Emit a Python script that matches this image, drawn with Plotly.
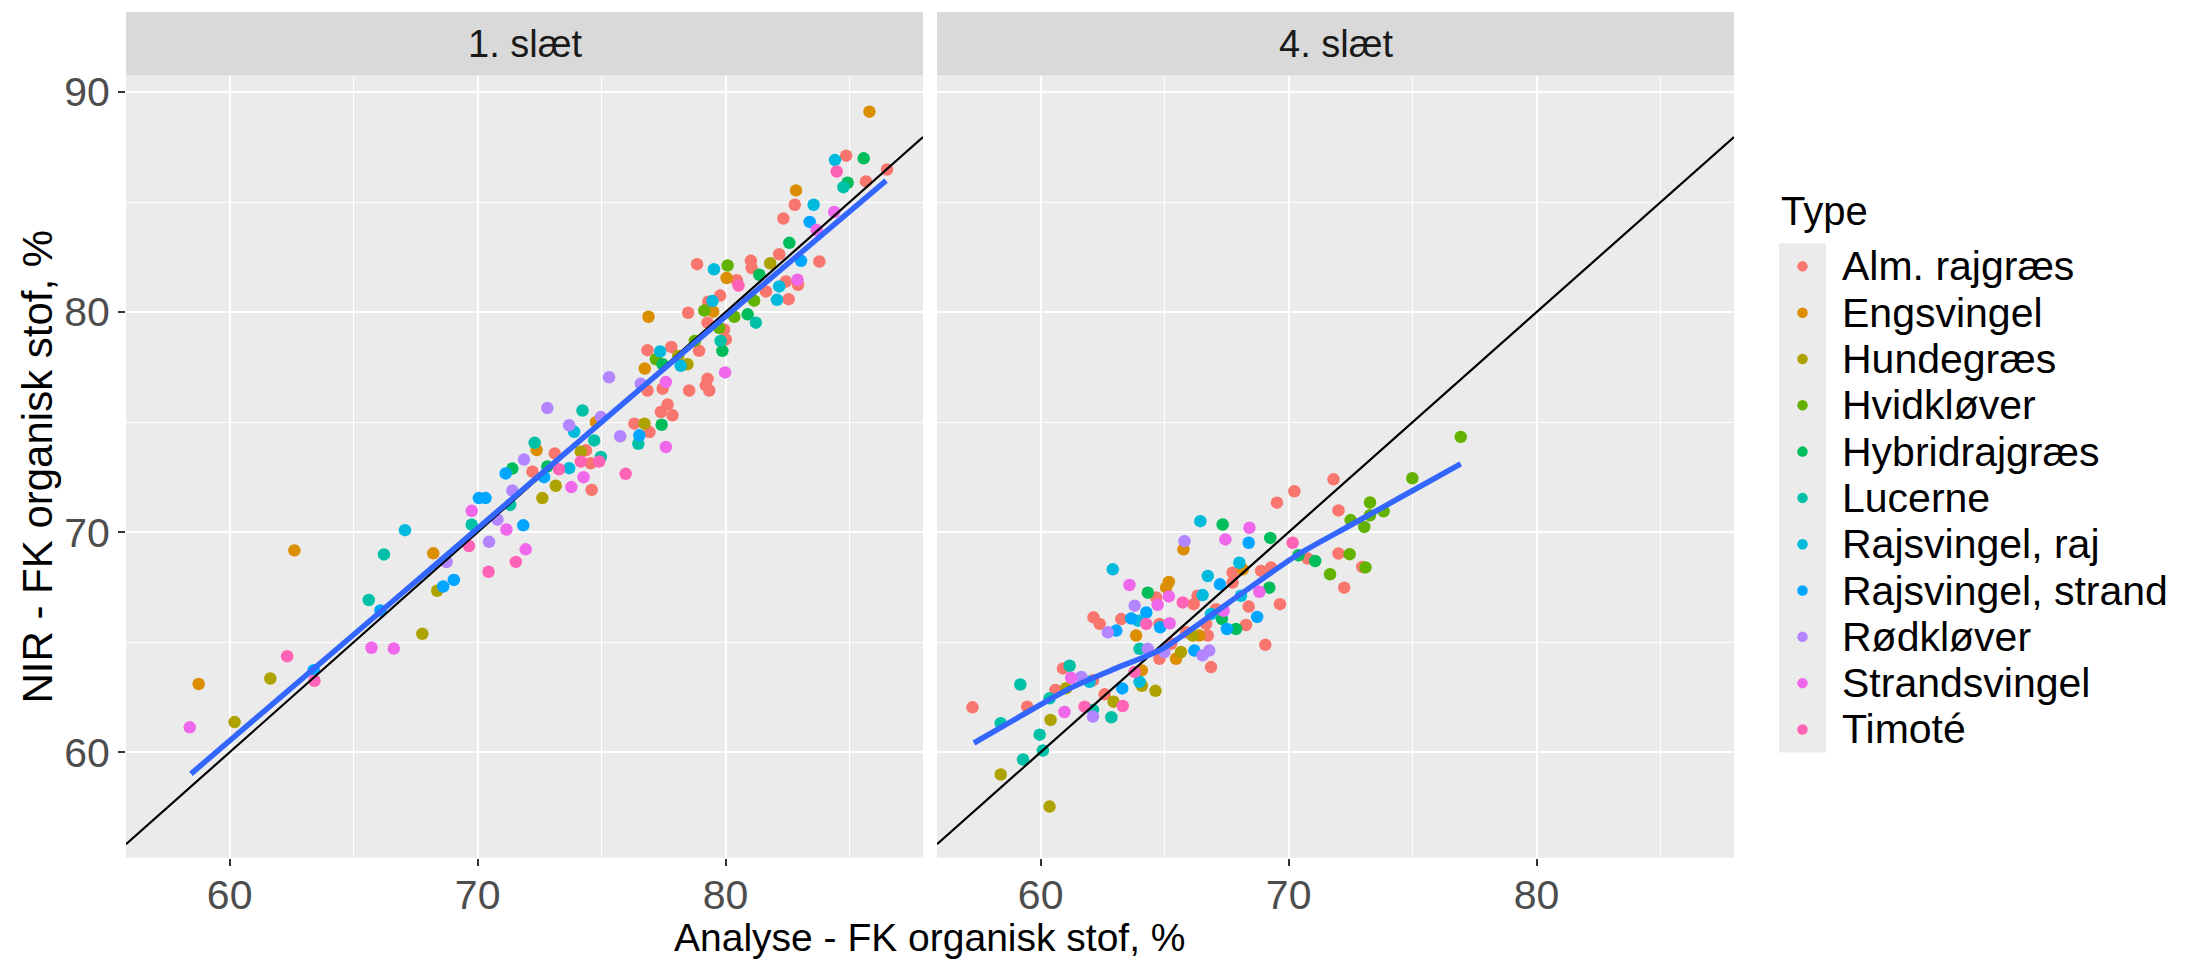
import plotly.graph_objects as go

W, H = 2193, 961
FONT = "Liberation Sans, Arial, sans-serif"

# ---- categories and colours -------------------------------------------------
type_names = ["Alm. rajgræs", "Engsvingel", "Hundegræs", "Hvidkløver", "Hybridrajgræs",
              "Lucerne", "Rajsvingel, raj", "Rajsvingel, strand", "Rødkløver",
              "Strandsvingel", "Timoté"]
type_codes = ["AR", "EN", "HU", "HK", "HY", "LU", "RR", "RS", "RK", "SV", "TI"]
type_colors = ["#F8766D", "#DB8E00", "#AEA200", "#64B200", "#00BD5C", "#00C1A7",
               "#00BADE", "#00A6FF", "#B385FF", "#EF67EB", "#FF63B6"]

facet_labels = ["1. slæt", "4. slæt"]

# ---- 1. slæt: analysed vs. NIR organic matter -------------------------------
cut1_type = [
    "EN", "RR", "AR", "HY", "TI", "AR", "AR", "HY", "LU", "EN", "AR", "RR", "AR", "RS", "SV",
    "SV", "HY", "AR", "HU", "AR", "AR", "AR", "RR", "HK", "EN", "TI", "AR", "HY", "AR", "RS",
    "AR", "SV", "AR", "RR", "AR", "HK", "RR", "AR", "AR", "RR", "AR", "HK", "EN", "AR", "EN",
    "HK", "HY", "LU", "AR", "HK", "AR", "AR", "LU", "HY", "SV", "AR", "RR", "AR", "HK", "HY",
    "HU", "HU", "RR", "AR", "HK", "EN", "RK", "RK", "SV", "AR", "AR", "AR", "AR", "AR", "AR",
    "AR", "AR", "AR", "HY", "AR", "HU", "AR", "RS", "LU", "RK", "SV", "LU", "RK", "EN", "LU",
    "AR", "LU",
    "EN", "SV", "HU", "HU", "TI", "EN", "RS", "TI", "LU", "RS", "LU", "RR", "SV", "SV", "HU",
    "EN", "HU", "RS", "RS", "RK", "TI", "LU", "SV", "RS", "RS", "RK", "TI", "RK", "SV", "RS",
    "SV", "TI", "RK", "LU", "RS", "HY", "RK", "AR", "LU", "EN", "RK", "HU", "HU", "RS", "AR",
    "HY", "TI", "RR", "SV", "SV", "AR", "RK", "RR", "HU", "TI", "AR", "TI", "TI",
]
cut1_analyse = [
    85.80, 84.41, 84.86, 85.57, 84.48, 86.51, 85.66, 84.92, 84.75, 82.84, 82.79, 83.55, 82.33,
    83.39, 84.38, 83.67, 82.57, 82.16, 81.80, 81.02, 81.05, 78.85, 79.53, 80.08, 80.04, 80.52,
    80.45, 81.36, 83.78, 83.04, 82.43, 82.90, 82.92, 82.16, 81.63, 81.15, 82.07, 82.54, 79.78,
    79.47, 79.30, 79.14, 79.50, 78.49, 76.89, 80.35, 80.89, 81.22, 79.27, 79.74, 79.94, 80.01,
    79.80, 79.87, 79.98, 76.85, 77.36, 77.81, 77.19, 77.46, 78.09, 78.46, 78.19, 78.93, 78.76,
    76.74, 75.30, 76.58, 77.59, 77.46, 76.85, 78.53, 79.27, 79.20, 79.34, 77.66, 77.39, 77.86,
    77.42, 76.32, 76.73, 76.93, 76.52, 76.48, 75.75, 77.59, 74.23, 74.97, 74.77, 74.70, 74.37,
    74.97,
    58.75, 58.39, 60.20, 61.64, 62.32, 62.61, 63.39, 63.42, 65.61, 66.08, 66.22, 67.07, 65.72,
    66.62, 67.77, 68.21, 68.37, 68.61, 69.04, 68.75, 69.65, 69.76, 69.76, 70.05, 70.32, 70.46,
    70.44, 70.80, 71.16, 71.84, 71.94, 71.54, 71.40, 71.31, 71.13, 71.40, 71.87, 72.21, 72.30,
    72.38, 72.81, 72.61, 73.15, 72.68, 73.11, 72.81, 73.28, 73.69, 73.78, 74.27, 74.60, 73.69,
    73.89, 74.16, 74.90, 74.56, 74.16, 75.97,
]
cut1_nir = [
    89.11, 86.91, 87.11, 86.99, 86.39, 86.48, 85.94, 85.88, 85.68, 85.53, 84.88, 84.88, 84.25,
    84.10, 84.55, 83.73, 83.15, 82.63, 82.22, 82.33, 82.00, 82.18, 81.95, 82.12, 81.55, 81.21,
    81.45, 81.70, 82.30, 82.33, 81.39, 81.47, 81.24, 81.17, 80.94, 80.52, 80.56, 80.59, 80.75,
    80.50, 80.47, 80.07, 80.02, 79.97, 79.79, 79.79, 79.90, 79.52, 79.52, 79.29, 79.21, 78.76,
    78.69, 78.24, 77.26, 78.27, 78.21, 78.42, 77.86, 77.63, 78.01, 77.63, 77.56, 78.24, 78.69,
    77.44, 77.04, 76.74, 76.82, 76.52, 76.44, 76.44, 76.97, 76.67, 76.44, 75.80, 75.46, 75.31,
    74.88, 74.93, 74.93, 74.55, 74.40, 74.02, 74.36, 73.87, 75.53, 75.23, 75.00, 74.17, 73.72,
    73.42,
    63.10, 61.13, 61.37, 63.35, 64.36, 69.17, 63.73, 63.25, 66.92, 66.44, 68.99, 70.09, 64.75,
    64.71, 65.38, 69.04, 67.34, 67.53, 67.83, 68.64, 69.37, 70.34, 70.97, 71.55, 71.55, 69.56,
    68.20, 70.57, 70.12, 70.31, 69.22, 68.65, 71.89, 71.24, 72.67, 72.89, 73.30, 72.75, 74.06,
    73.73, 75.64, 71.55, 72.11, 72.50, 73.58, 72.98, 72.86, 72.91, 72.05, 72.50, 71.92, 74.86,
    74.56, 73.66, 73.21, 73.13, 73.21, 72.65,
]

# ---- 4. slæt -----------------------------------------------------------------
cut4_type = [
    "AR", "LU", "HU", "LU", "AR", "LU", "LU", "LU", "HU", "HU", "LU", "AR", "AR", "LU", "HU",
    "SV", "SV", "RK", "RR", "AR", "TI", "LU", "RK", "AR", "LU", "HU", "TI", "RS", "RR", "SV",
    "AR", "AR", "RK", "RS", "AR", "RS", "RK", "RR", "RS", "TI", "EN", "LU", "TI", "EN", "RR",
    "HU", "HU", "HY", "AR", "SV", "EN", "EN", "SV", "AR", "RS", "SV", "RK", "RK", "AR", "AR",
    "HU", "EN", "TI", "RK", "EN", "AR", "AR", "RR", "AR", "HU", "EN", "AR", "AR", "RS", "RK",
    "RK", "AR", "RR", "RR", "RR", "AR", "RS", "HY", "SV", "HY", "SV", "RS", "HY", "AR", "RR",
    "EN", "AR", "RR", "AR", "AR", "RS", "SV", "RS", "SV", "AR", "HY", "AR", "HY", "AR", "AR",
    "AR", "TI", "AR", "HY", "AR", "HY", "HK", "AR", "AR", "AR", "AR", "HK", "HK",
    "HK", "HK", "HK", "HK", "HK", "HK", "AR", "HK",
]
cut4_analyse = [
    57.25, 58.39, 58.39, 59.18, 59.46, 59.29, 59.96, 60.09, 60.36, 60.40, 60.36, 60.60, 60.90,
    61.17, 61.03, 60.96, 61.23, 61.64, 61.97, 62.11, 61.77, 62.11, 62.11, 62.58, 62.85, 62.94,
    63.31, 63.29, 62.91, 63.58, 62.13, 62.38, 62.71, 63.05, 63.25, 63.65, 63.79, 63.92, 64.26,
    64.26, 63.85, 63.99, 63.79, 64.08, 63.99, 64.08, 64.63, 64.32, 64.66, 64.72, 65.06, 65.17,
    65.17, 64.79, 64.82, 65.20, 64.32, 64.99, 64.79, 65.26, 65.66, 65.46, 65.73, 65.80, 65.76,
    66.17, 66.33, 66.53, 65.87, 66.13, 66.40, 66.67, 66.74, 66.20, 66.53, 66.80, 66.87, 66.44,
    66.74, 66.87, 67.07, 67.23, 67.31, 67.38, 67.34, 67.45, 67.51, 67.88, 67.74, 68.01, 68.15,
    67.74, 68.08, 68.28, 68.39, 68.73, 68.42, 68.39, 68.82, 68.89, 69.22, 69.29, 69.26, 69.06,
    69.65, 69.53, 70.16, 70.23, 70.40, 70.77, 71.07, 71.67, 71.81, 72.01, 72.01, 72.24, 72.50,
    72.46,
    76.94, 74.99, 73.28, 73.83, 73.28, 73.05, 72.97, 73.10,
]
cut4_nir = [
    62.04, 61.32, 58.99, 63.08, 62.07, 59.67, 60.80, 60.08, 57.53, 61.47, 62.45, 62.83, 63.81,
    63.93, 62.91, 61.83, 63.38, 63.42, 63.20, 63.27, 62.07, 61.92, 61.62, 62.63, 61.59, 62.30,
    62.10, 62.90, 68.31, 67.60, 66.13, 65.83, 65.45, 65.53, 66.05, 66.08, 66.66, 65.98, 66.35,
    65.83, 65.30, 64.70, 63.65, 63.72, 63.20, 63.02, 62.79, 67.25, 67.03, 66.70, 67.48, 67.74,
    67.08, 65.83, 65.68, 65.86, 64.70, 64.55, 64.25, 64.93, 64.55, 64.25, 66.81, 69.59, 69.22,
    66.73, 67.11, 67.14, 65.45, 65.30, 65.30, 65.83, 65.30, 64.62, 64.40, 64.62, 63.87, 70.50,
    68.01, 66.28, 66.50, 67.63, 66.05, 66.43, 70.35, 69.67, 65.60, 65.60, 68.16, 68.61, 68.31,
    67.71, 67.11, 65.78, 66.62, 66.15, 70.20, 69.52, 67.29, 68.24, 67.48, 68.39, 69.74, 64.88,
    66.73, 71.34, 69.52, 71.86, 68.95, 68.80, 68.69, 68.09, 72.40, 70.99, 69.03, 67.48, 70.55,
    69.00,
    74.33, 72.45, 71.35, 70.95, 70.77, 70.24, 68.42, 68.40,
]

# ---- fitted smooth per cut (values along the blue curve) ---------------------
smooth1_x = [58.44, 67.0, 76.18, 86.47]
smooth1_y = [59.02, 67.27, 76.15, 85.98]
smooth4_x = [57.31, 59.2, 61.17, 63.0, 64.93, 67.61, 70.30, 72.44, 74.7, 76.94]
smooth4_y = [60.42, 61.65, 62.90, 63.80, 64.71, 66.82, 68.93, 70.28, 71.70, 73.10]

# ---- axes ------------------------------------------------------------------
x_range = [55.82, 87.96]
y_range = [55.21, 90.75]
x_ticks = [60, 70, 80]
y_ticks = [60, 70, 80, 90]

# panel geometry (pixels)
P1 = (126, 923)
P2 = (937, 1734)
P_TOP, P_BOT, STRIP_TOP = 70, 857, 6


def fx(px):
    return px / W


def fy(py):
    return 1 - py / H


fig = go.Figure()

for xa, t_list, xs, ys in (("x", cut1_type, cut1_analyse, cut1_nir),
                           ("x2", cut4_type, cut4_analyse, cut4_nir)):
    for i, code in enumerate(type_codes):
        px = [x for t, x in zip(t_list, xs) if t == code]
        py = [y for t, y in zip(t_list, ys) if t == code]
        if not px:
            continue
        fig.add_trace(go.Scatter(
            x=px, y=py, mode="markers", xaxis=xa, yaxis="y",
            marker=dict(size=12.5, color=type_colors[i], line=dict(width=0)),
            name=type_names[i], showlegend=False, hoverinfo="skip"))

# identity line y = x
for xa in ("x", "x2"):
    fig.add_trace(go.Scatter(
        x=x_range, y=x_range, mode="lines", xaxis=xa, yaxis="y",
        line=dict(color="black", width=2.2), showlegend=False, hoverinfo="skip"))

# smooth fits
for xa, sx, sy in (("x", smooth1_x, smooth1_y), ("x2", smooth4_x, smooth4_y)):
    fig.add_trace(go.Scatter(
        x=sx, y=sy, mode="lines", xaxis=xa, yaxis="y",
        line=dict(color="#3366FF", width=5.5, shape="spline", smoothing=0.6),
        showlegend=False, hoverinfo="skip"))

# legend keys on their own hidden axis (pixel units)
LEG_X0 = 1754
KEY_L, KEY_W = 1779, 47
leg_y0, leg_dy = 262, 46.6
fig.add_trace(go.Scatter(
    x=[KEY_L + KEY_W / 2] * len(type_names),
    y=[leg_y0 + leg_dy * i for i in range(len(type_names))],
    mode="markers", xaxis="x3", yaxis="y3",
    marker=dict(size=10.5, color=type_colors, line=dict(width=0)),
    showlegend=False, hoverinfo="skip"))

tick_font = dict(family=FONT, size=41, color="#4D4D4D")
grid = dict(showgrid=True, gridcolor="white", gridwidth=2.4, zeroline=False,
            showline=False, ticks="outside", ticklen=7, tickwidth=2.2,
            tickcolor="#333333", tickfont=tick_font, fixedrange=True)
minor = dict(tickmode="linear", tick0=55, dtick=10, showgrid=True,
             gridcolor="white", gridwidth=1.2, ticks="")

shapes = []
annotations = []
for (l, r), lab in zip((P1, P2), facet_labels):
    # panel background
    shapes.append(dict(type="rect", xref="paper", yref="paper", layer="below",
                       x0=fx(l), x1=fx(r), y0=fy(P_BOT), y1=fy(P_TOP),
                       fillcolor="#EBEBEB", line=dict(width=0)))
    # strip
    shapes.append(dict(type="rect", xref="paper", yref="paper", layer="below",
                       x0=fx(l), x1=fx(r), y0=fy(P_TOP), y1=fy(STRIP_TOP),
                       fillcolor="#D9D9D9", line=dict(width=0)))
    annotations.append(dict(text=lab, xref="paper", yref="paper",
                            x=fx((l + r) / 2), y=fy((STRIP_TOP + P_TOP) / 2),
                            xanchor="center", yanchor="middle", showarrow=False,
                            font=dict(family=FONT, size=38, color="#1A1A1A")))

# legend key background
n_keys = len(type_names)
shapes.append(dict(type="rect", xref="paper", yref="paper", layer="below",
                   x0=fx(KEY_L), x1=fx(KEY_L + KEY_W),
                   y0=fy(leg_y0 + leg_dy * (n_keys - 0.5)), y1=fy(leg_y0 - leg_dy / 2),
                   fillcolor="#EBEBEB", line=dict(width=0)))

# axis titles
annotations.append(dict(text="Analyse - FK organisk stof, %", xref="paper", yref="paper",
                        x=fx((P1[0] + P2[1]) / 2), y=0, xanchor="center",
                        yanchor="bottom", showarrow=False,
                        font=dict(family=FONT, size=39, color="black")))
annotations.append(dict(text="NIR - FK organisk stof, %", xref="paper", yref="paper",
                        x=fx(38), y=fy((P_TOP + P_BOT) / 2), xanchor="center",
                        yanchor="middle", textangle=-90, showarrow=False,
                        font=dict(family=FONT, size=42, color="black")))

# legend title and labels
annotations.append(dict(text="Type", xref="paper", yref="paper", x=fx(KEY_L), y=fy(206),
                        xanchor="left", yanchor="middle", showarrow=False,
                        font=dict(family=FONT, size=40, color="black")))
for i, name in enumerate(type_names):
    annotations.append(dict(text=name, xref="paper", yref="paper", x=fx(1840),
                            y=fy(leg_y0 + leg_dy * i), xanchor="left", yanchor="middle",
                            showarrow=False,
                            font=dict(family=FONT, size=41, color="black")))

fig.update_layout(
    width=W, height=H, margin=dict(l=0, r=0, t=0, b=0),
    paper_bgcolor="white", plot_bgcolor="rgba(0,0,0,0)",
    showlegend=False,
    xaxis=dict(domain=[fx(P1[0]), fx(P1[1])], range=x_range, tickvals=x_ticks,
               anchor="y", minor=minor, ticklabelstandoff=-6, **grid),
    xaxis2=dict(domain=[fx(P2[0]), fx(P2[1])], range=x_range, tickvals=x_ticks,
                anchor="y", minor=minor, ticklabelstandoff=-6, **grid),
    yaxis=dict(domain=[fy(P_BOT), fy(P_TOP)], range=y_range, tickvals=y_ticks,
               anchor="x", minor=minor, **grid),
    xaxis3=dict(domain=[fx(LEG_X0), 1], range=[LEG_X0, W], visible=False,
                anchor="y3", fixedrange=True),
    yaxis3=dict(domain=[0, 1], range=[H, 0], visible=False, anchor="x3",
                fixedrange=True),
    shapes=shapes, annotations=annotations,
)

fig.write_html("out.html")
